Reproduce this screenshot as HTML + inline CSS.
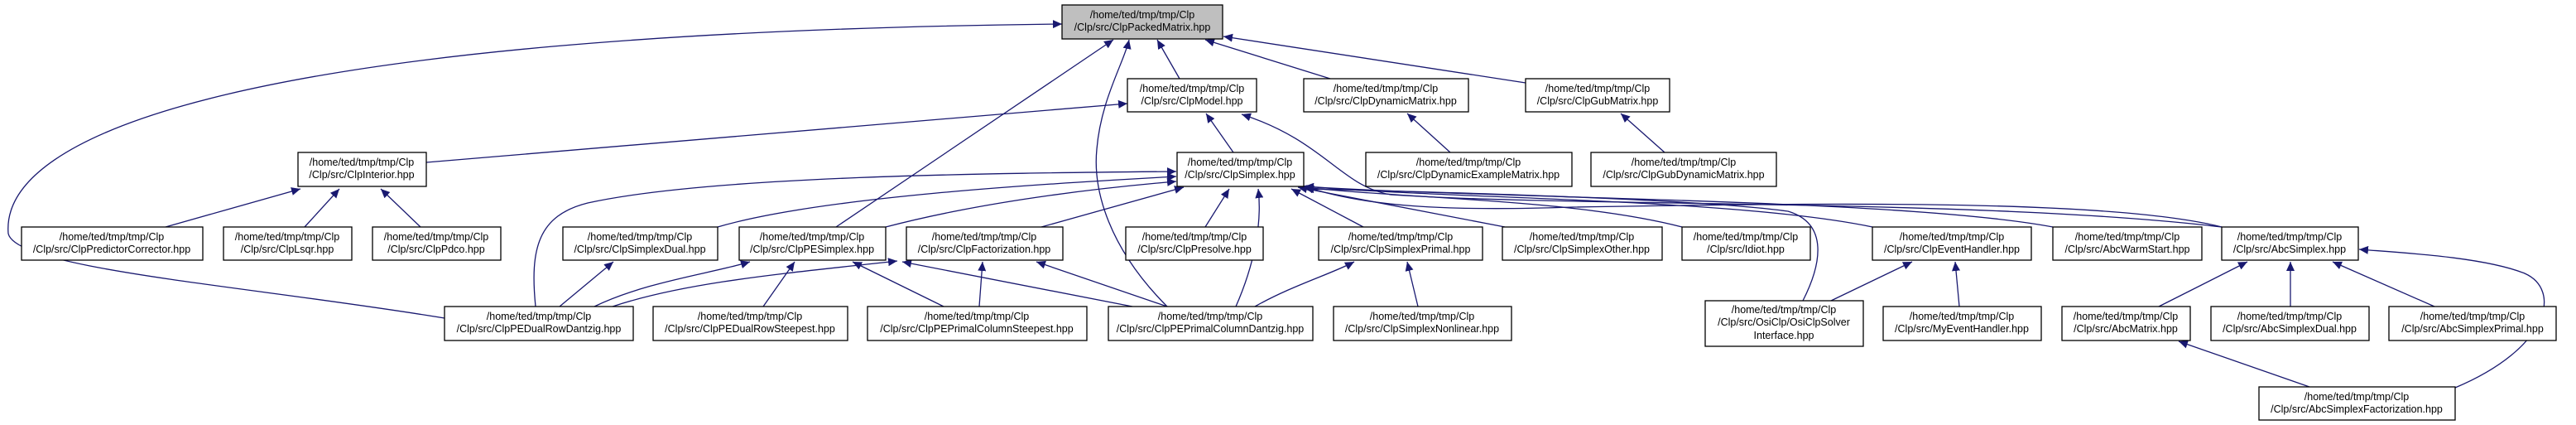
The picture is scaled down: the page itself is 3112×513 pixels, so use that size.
<!DOCTYPE html>
<html><head><meta charset="utf-8"><style>
html,body{margin:0;padding:0;background:#fff;}
svg{display:block}
text{font-family:"Liberation Sans",sans-serif;font-size:12.5px;fill:#000;text-anchor:middle}
.b{fill:#fff;stroke:#000;stroke-width:1.3}
.e{fill:none;stroke:#191970;stroke-width:1.3;marker-end:url(#a)}
</style></head><body>
<svg width="3112" height="513" viewBox="0 0 3112 513" xmlns="http://www.w3.org/2000/svg">
<defs><marker id="a" markerUnits="userSpaceOnUse" markerWidth="12" markerHeight="10" refX="11" refY="5" orient="auto"><path d="M0,0 L11,5 L0,10 z" fill="#191970"/></marker></defs>
<g>
<path class="e" d="M537,384 C300,345 20,325 10,282 C0,160 300,40 1283,29"/>
<path class="e" d="M1010,274 L1345,48"/>
<path class="e" d="M1410,370 C1340,300 1320,230 1325,180 C1330,120 1358,75 1364,48"/>
<path class="e" d="M1425,95 L1398,48"/>
<path class="e" d="M1607,95 L1456,48"/>
<path class="e" d="M1843,100 L1478,44"/>
<path class="e" d="M515,196 L1362,125"/>
<path class="e" d="M1490,184 L1457,137"/>
<path class="e" d="M2684,274 C2400,240 1900,250 1680,235 C1620,225 1600,170 1500,138"/>
<path class="e" d="M200,274 L363,228"/>
<path class="e" d="M368,274 L410,228"/>
<path class="e" d="M508,274 L460,228"/>
<path class="e" d="M647,370 C640,300 650,260 710,245 C860,212 1200,209 1421,207"/>
<path class="e" d="M867,274 C1000,235 1300,220 1421,213"/>
<path class="e" d="M1070,274 C1200,240 1350,225 1421,219"/>
<path class="e" d="M1258,274 L1430,226"/>
<path class="e" d="M1456,274 L1485,228"/>
<path class="e" d="M1493,370 C1515,320 1525,270 1520,228"/>
<path class="e" d="M1647,274 L1560,228"/>
<path class="e" d="M1818,274 L1568,226"/>
<path class="e" d="M2032,274 C1900,240 1700,240 1575,226"/>
<path class="e" d="M2262,274 C2100,240 1750,240 1576,225"/>
<path class="e" d="M2480,274 C2300,240 1800,240 1576,225"/>
<path class="e" d="M2684,274 C2550,240 2200,245 1900,250 C1750,255 1650,250 1576,225"/>
<path class="e" d="M2178,363 C2200,320 2210,270 2160,255 C2050,240 1750,232 1576,228"/>
<path class="e" d="M676,370 L741,316"/>
<path class="e" d="M718,370 C780,340 860,330 906,316"/>
<path class="e" d="M740,370 C830,340 950,330 1084,315"/>
<path class="e" d="M922,370 L960,316"/>
<path class="e" d="M1140,370 L1030,316"/>
<path class="e" d="M1183,370 L1187,316"/>
<path class="e" d="M1368,370 L1090,316"/>
<path class="e" d="M1410,370 L1252,316"/>
<path class="e" d="M1516,370 C1560,345 1610,330 1636,316"/>
<path class="e" d="M1713,370 L1700,316"/>
<path class="e" d="M2212,363 L2310,316"/>
<path class="e" d="M2367,370 L2362,316"/>
<path class="e" d="M2608,370 L2715,316"/>
<path class="e" d="M2767,370 L2767,316"/>
<path class="e" d="M2941,370 L2818,316"/>
<path class="e" d="M2966,468 C3080,420 3095,350 3050,330 C3000,310 2900,305 2850,301"/>
<path class="e" d="M2790,467 L2632,412"/>
<path class="e" d="M1752,184 L1700,137"/>
<path class="e" d="M2011,184 L1958,137"/>
</g>
<g>
<rect x="1283" y="6" width="194" height="41" fill="#bfbfbf" stroke="#000" stroke-width="1.3"/>
<text x="1380" y="22">/home/ted/tmp/tmp/Clp</text><text x="1380" y="37">/Clp/src/ClpPackedMatrix.hpp</text>

<rect class="b" x="1362" y="95" width="156" height="40"/><text x="1440" y="111">/home/ted/tmp/tmp/Clp</text><text x="1440" y="126">/Clp/src/ClpModel.hpp</text>
<rect class="b" x="1575" y="95" width="199" height="40"/><text x="1674" y="111">/home/ted/tmp/tmp/Clp</text><text x="1674" y="126">/Clp/src/ClpDynamicMatrix.hpp</text>
<rect class="b" x="1843" y="95" width="174" height="40"/><text x="1930" y="111">/home/ted/tmp/tmp/Clp</text><text x="1930" y="126">/Clp/src/ClpGubMatrix.hpp</text>

<rect class="b" x="360" y="184" width="155" height="41"/><text x="437" y="200">/home/ted/tmp/tmp/Clp</text><text x="437" y="215">/Clp/src/ClpInterior.hpp</text>
<rect class="b" x="1422" y="184" width="153" height="41"/><text x="1498" y="200">/home/ted/tmp/tmp/Clp</text><text x="1498" y="215">/Clp/src/ClpSimplex.hpp</text>
<rect class="b" x="1650" y="184" width="249" height="41"/><text x="1774" y="200">/home/ted/tmp/tmp/Clp</text><text x="1774" y="215">/Clp/src/ClpDynamicExampleMatrix.hpp</text>
<rect class="b" x="1922" y="184" width="224" height="41"/><text x="2034" y="200">/home/ted/tmp/tmp/Clp</text><text x="2034" y="215">/Clp/src/ClpGubDynamicMatrix.hpp</text>

<rect class="b" x="26" y="274" width="219" height="40"/><text x="135" y="290">/home/ted/tmp/tmp/Clp</text><text x="135" y="305">/Clp/src/ClpPredictorCorrector.hpp</text>
<rect class="b" x="270" y="274" width="155" height="40"/><text x="347" y="290">/home/ted/tmp/tmp/Clp</text><text x="347" y="305">/Clp/src/ClpLsqr.hpp</text>
<rect class="b" x="450" y="274" width="155" height="40"/><text x="527" y="290">/home/ted/tmp/tmp/Clp</text><text x="527" y="305">/Clp/src/ClpPdco.hpp</text>
<rect class="b" x="680" y="274" width="187" height="40"/><text x="773" y="290">/home/ted/tmp/tmp/Clp</text><text x="773" y="305">/Clp/src/ClpSimplexDual.hpp</text>
<rect class="b" x="893" y="274" width="177" height="40"/><text x="981" y="290">/home/ted/tmp/tmp/Clp</text><text x="981" y="305">/Clp/src/ClpPESimplex.hpp</text>
<rect class="b" x="1095" y="274" width="189" height="40"/><text x="1189" y="290">/home/ted/tmp/tmp/Clp</text><text x="1189" y="305">/Clp/src/ClpFactorization.hpp</text>
<rect class="b" x="1360" y="274" width="166" height="40"/><text x="1443" y="290">/home/ted/tmp/tmp/Clp</text><text x="1443" y="305">/Clp/src/ClpPresolve.hpp</text>
<rect class="b" x="1593" y="274" width="198" height="40"/><text x="1692" y="290">/home/ted/tmp/tmp/Clp</text><text x="1692" y="305">/Clp/src/ClpSimplexPrimal.hpp</text>
<rect class="b" x="1815" y="274" width="193" height="40"/><text x="1911" y="290">/home/ted/tmp/tmp/Clp</text><text x="1911" y="305">/Clp/src/ClpSimplexOther.hpp</text>
<rect class="b" x="2032" y="274" width="155" height="40"/><text x="2109" y="290">/home/ted/tmp/tmp/Clp</text><text x="2109" y="305">/Clp/src/Idiot.hpp</text>
<rect class="b" x="2262" y="274" width="192" height="40"/><text x="2358" y="290">/home/ted/tmp/tmp/Clp</text><text x="2358" y="305">/Clp/src/ClpEventHandler.hpp</text>
<rect class="b" x="2480" y="274" width="180" height="40"/><text x="2570" y="290">/home/ted/tmp/tmp/Clp</text><text x="2570" y="305">/Clp/src/AbcWarmStart.hpp</text>
<rect class="b" x="2684" y="274" width="165" height="40"/><text x="2766" y="290">/home/ted/tmp/tmp/Clp</text><text x="2766" y="305">/Clp/src/AbcSimplex.hpp</text>

<rect class="b" x="537" y="370" width="228" height="41"/><text x="651" y="386">/home/ted/tmp/tmp/Clp</text><text x="651" y="401">/Clp/src/ClpPEDualRowDantzig.hpp</text>
<rect class="b" x="789" y="370" width="235" height="41"/><text x="906" y="386">/home/ted/tmp/tmp/Clp</text><text x="906" y="401">/Clp/src/ClpPEDualRowSteepest.hpp</text>
<rect class="b" x="1048" y="370" width="265" height="41"/><text x="1180" y="386">/home/ted/tmp/tmp/Clp</text><text x="1180" y="401">/Clp/src/ClpPEPrimalColumnSteepest.hpp</text>
<rect class="b" x="1339" y="370" width="247" height="41"/><text x="1462" y="386">/home/ted/tmp/tmp/Clp</text><text x="1462" y="401">/Clp/src/ClpPEPrimalColumnDantzig.hpp</text>
<rect class="b" x="1611" y="370" width="215" height="41"/><text x="1718" y="386">/home/ted/tmp/tmp/Clp</text><text x="1718" y="401">/Clp/src/ClpSimplexNonlinear.hpp</text>
<rect class="b" x="2060" y="363" width="191" height="55"/><text x="2155" y="378">/home/ted/tmp/tmp/Clp</text><text x="2155" y="393">/Clp/src/OsiClp/OsiClpSolver</text><text x="2155" y="409">Interface.hpp</text>
<rect class="b" x="2275" y="370" width="191" height="41"/><text x="2370" y="386">/home/ted/tmp/tmp/Clp</text><text x="2370" y="401">/Clp/src/MyEventHandler.hpp</text>
<rect class="b" x="2491" y="370" width="155" height="41"/><text x="2568" y="386">/home/ted/tmp/tmp/Clp</text><text x="2568" y="401">/Clp/src/AbcMatrix.hpp</text>
<rect class="b" x="2671" y="370" width="191" height="41"/><text x="2766" y="386">/home/ted/tmp/tmp/Clp</text><text x="2766" y="401">/Clp/src/AbcSimplexDual.hpp</text>
<rect class="b" x="2886" y="370" width="202" height="41"/><text x="2987" y="386">/home/ted/tmp/tmp/Clp</text><text x="2987" y="401">/Clp/src/AbcSimplexPrimal.hpp</text>

<rect class="b" x="2729" y="467" width="237" height="40"/><text x="2847" y="483">/home/ted/tmp/tmp/Clp</text><text x="2847" y="498">/Clp/src/AbcSimplexFactorization.hpp</text>
</g>
</svg>
</body></html>
